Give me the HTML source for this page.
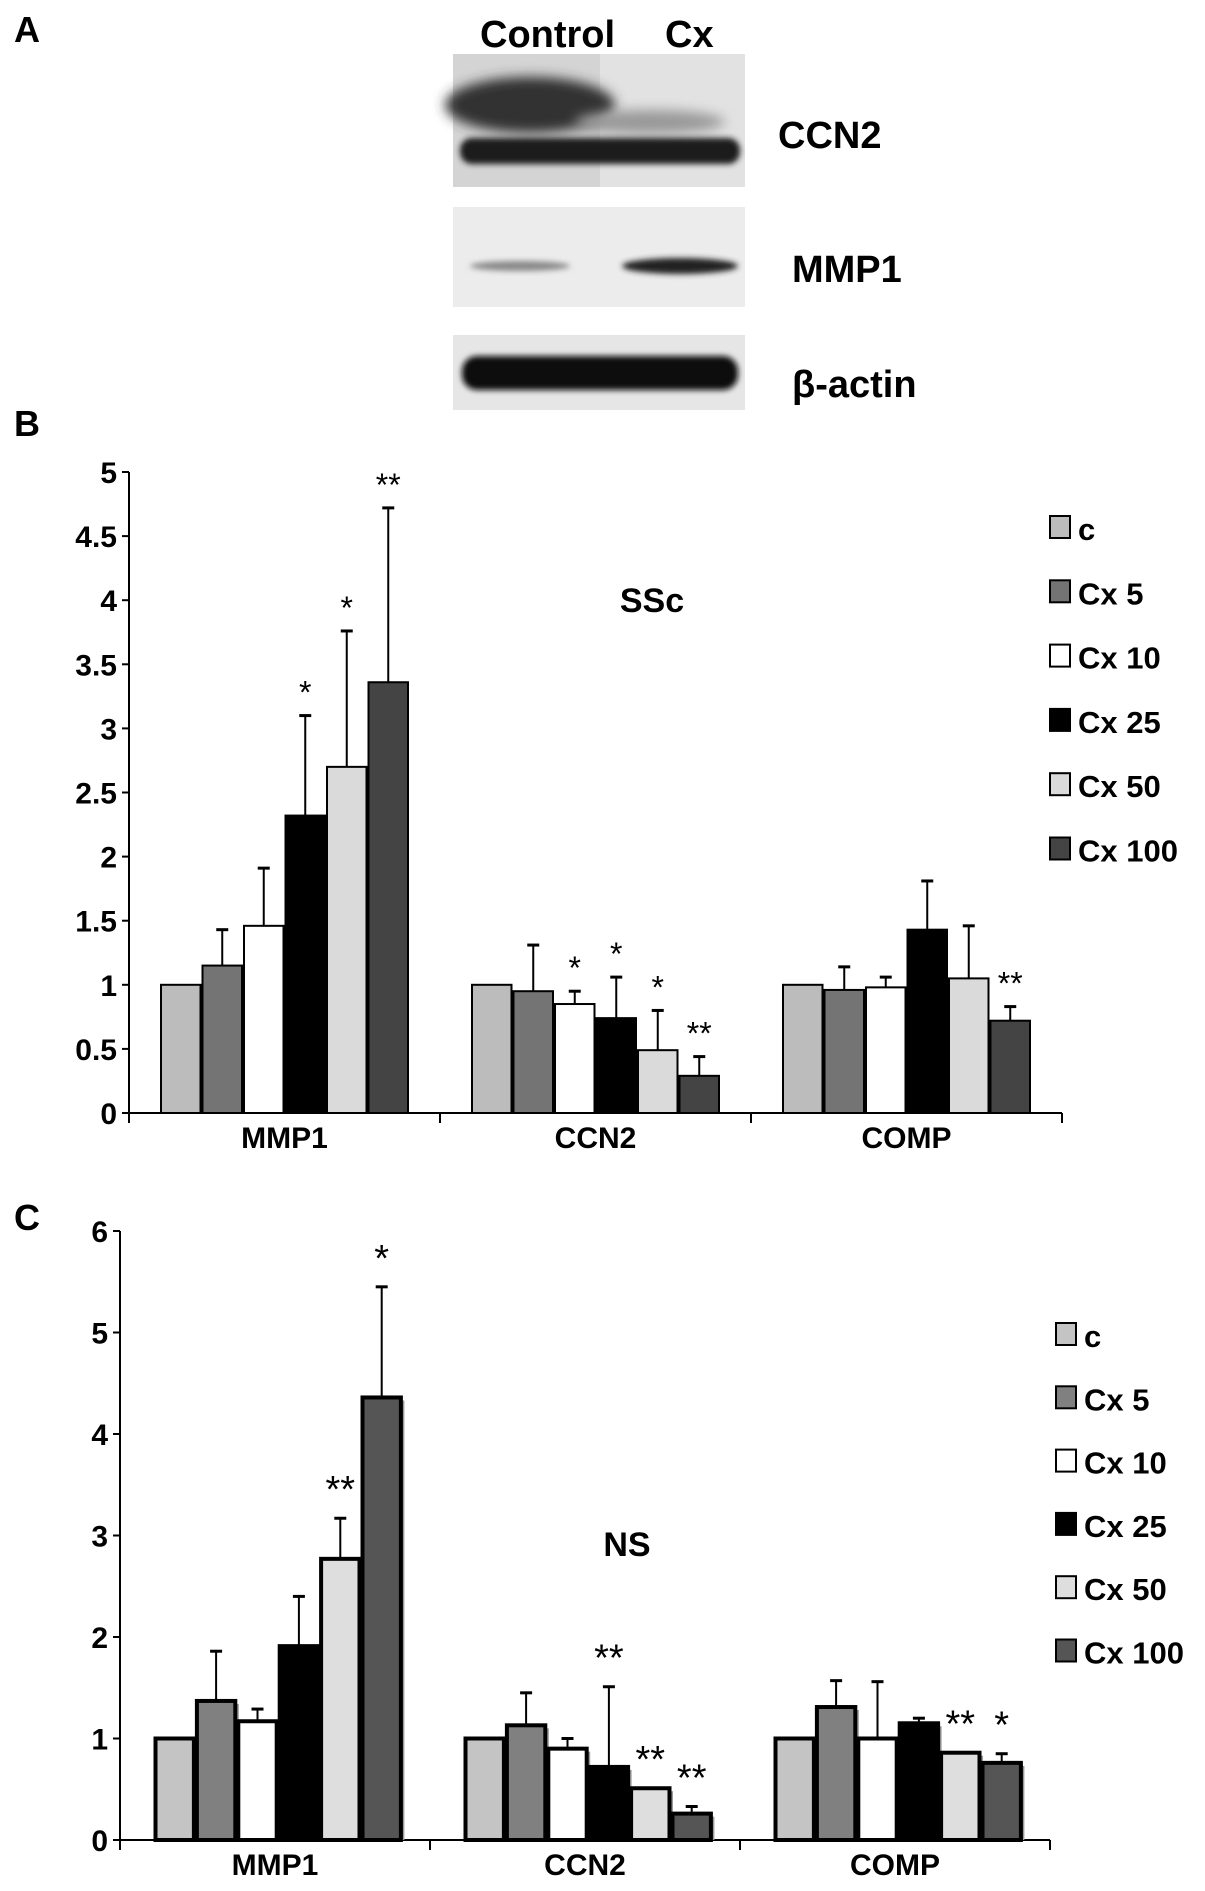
<!DOCTYPE html>
<html><head><meta charset="utf-8">
<style>
html,body{margin:0;padding:0;background:#fff;}
svg{display:block;font-family:"Liberation Sans Narrow","Liberation Sans",sans-serif;font-weight:bold;}
</style></head>
<body>
<svg id="fig" width="1205" height="1891" viewBox="0 0 1205 1891" xmlns="http://www.w3.org/2000/svg">
<defs>
<filter id="blur6" x="-20%" y="-50%" width="140%" height="200%"><feGaussianBlur stdDeviation="6"/></filter>
<filter id="blur3" x="-20%" y="-50%" width="140%" height="200%"><feGaussianBlur stdDeviation="3"/></filter>
</defs>
<g>
<text x="14" y="42" font-size="36" font-family="Liberation Sans">A</text>
<text x="480" y="47" font-size="38" font-family="Liberation Sans">Control</text>
<text x="665" y="47" font-size="38" font-family="Liberation Sans">Cx</text>
<g>
<rect x="453" y="54" width="292" height="133" fill="#d4d4d4"/>
<rect x="600" y="54" width="145" height="133" fill="#e2e2e2"/>
<ellipse cx="530" cy="105" rx="85" ry="28" fill="#333" filter="url(#blur6)"/>
<ellipse cx="650" cy="122" rx="75" ry="12" fill="#999" filter="url(#blur6)"/>
<rect x="460" y="138" width="280" height="26" rx="12" fill="#1a1a1a" filter="url(#blur3)"/>
</g>
<text x="778" y="148" font-size="38" font-family="Liberation Sans">CCN2</text>
<g>
<rect x="453" y="207" width="292" height="100" fill="#ececec"/>
<ellipse cx="520" cy="266" rx="50" ry="5" fill="#888" filter="url(#blur3)"/>
<ellipse cx="680" cy="266" rx="58" ry="8" fill="#222" filter="url(#blur3)"/>
</g>
<text x="792" y="282" font-size="38" font-family="Liberation Sans">MMP1</text>
<g>
<rect x="453" y="335" width="292" height="75" fill="#e6e6e6"/>
<rect x="462" y="356" width="276" height="34" rx="15" fill="#0d0d0d" filter="url(#blur3)"/>
</g>
<text x="792" y="397" font-size="38" font-family="Liberation Sans">β-actin</text>
</g>
<text x="14" y="436" font-size="36" font-family="Liberation Sans">B</text>
<text x="14" y="1230" font-size="36" font-family="Liberation Sans">C</text>
<g id="chartB"></g>
<g id="chartC"></g>
</svg>
<script>
const categories = ["MMP1","CCN2","COMP"];
const seriesNames = ["c","Cx 5","Cx 10","Cx 25","Cx 50","Cx 100"];
const colorsB = ["#bcbcbc","#747474","#ffffff","#000000","#dadada","#444444"];
const colorsC = ["#c4c4c4","#808080","#ffffff","#000000","#dedede","#555555"];
const valuesB = [[1,1.15,1.46,2.32,2.70,3.36],[1,0.95,0.85,0.74,0.49,0.29],[1,0.96,0.98,1.43,1.05,0.72]];
const errTopB = [[null,1.43,1.91,3.10,3.76,4.72],[null,1.31,0.95,1.06,0.80,0.44],[null,1.14,1.06,1.81,1.46,0.83]];
const starsB = [["","","","*","*","**"],["","","*","*","*","**"],["","","","","","**"]];
const ticksB = [0,0.5,1,1.5,2,2.5,3,3.5,4,4.5,5];
const valuesC = [[1,1.37,1.17,1.91,2.77,4.36],[1,1.13,0.90,0.72,0.51,0.26],[1,1.31,1.00,1.15,0.86,0.76]];
const errTopC = [[null,1.86,1.29,2.40,3.17,5.45],[null,1.45,1.00,1.51,0.51,0.33],[null,1.57,1.56,1.20,0.86,0.85]];
const starsC = [["","","","","**","*"],["","","","**","**","**"],["","","","","**","*"]];
const ticksC = [0,1,2,3,4,5,6];

const NS="http://www.w3.org/2000/svg";
function mk(parent,tag,attrs,text){const e=document.createElementNS(NS,tag);for(const k in attrs)e.setAttribute(k,attrs[k]);if(text!==undefined)e.textContent=text;parent.appendChild(e);return e;}

function drawChart(g,cfg){
  const {x0,y0,yTop,maxV,groupW,barOff,barW,values,errTop,stars,ticks,colors,thick,title,titleX,titleY,legX,legY,legStep,catY,tickFmt}=cfg;
  const yS=v=>y0-(v/maxV)*(y0-yTop);
  const xEnd=x0+groupW*categories.length;
  const ya=mk(g,'line',{x1:x0,y1:yTop,x2:x0,y2:y0,stroke:'#000','stroke-width':2});
  
  
  const xa=mk(g,'line',{x1:x0,y1:y0,x2:xEnd,y2:y0,stroke:'#000','stroke-width':2});
  
  
  ticks.forEach(t=>{
    const y=yS(t);
    const tl=mk(g,'line',{x1:x0-7,y1:y,x2:x0,y2:y,stroke:'#000','stroke-width':2});
    
    
    const tx=mk(g,'text',{x:x0-12,y:y+11,'text-anchor':'end','font-size':30},tickFmt(t));
    
    
  });
  for(let i=0;i<=categories.length;i++){
    const x=x0+i*groupW;
    const ct=mk(g,'line',{x1:x,y1:y0,x2:x,y2:y0+10,stroke:'#000','stroke-width':2});
    
    
  }
  categories.forEach((c,ci)=>{
    const cl=mk(g,'text',{x:x0+ci*groupW+groupW/2,y:catY,'text-anchor':'middle','font-size':30},c);
    
    
    values[ci].forEach((v,si)=>{
      const bx=x0+ci*groupW+barOff+si*barW;
      const by=yS(v);
      if(thick){
        const sh=mk(g,'rect',{x:bx+4,y:by+3,width:barW-2,height:y0-by-3,fill:'#999'});
        
        
      }
      const r=mk(g,'rect',{x:bx+(thick?1.5:1),y:by,width:barW-(thick?3:2),height:y0-by,fill:colors[si],stroke:'#000','stroke-width':thick?4:2});
      
      
      const e=errTop[ci][si];
      const cx=bx+barW/2;
      let top=by;
      if(e!==null && e!==undefined){
        const ey=yS(e);
        top=ey;
        const el=mk(g,'line',{x1:cx,y1:by,x2:cx,y2:ey,stroke:'#000','stroke-width':2});
        
        
        const ec=mk(g,'line',{x1:cx-6,y1:ey,x2:cx+6,y2:ey,stroke:'#000','stroke-width':3});
        
        
      }
      const s=stars[ci][si];
      if(s){
        const st=mk(g,'text',{x:cx,y:top-(thick?16:12),'text-anchor':'middle','font-size':thick?38:32,'font-weight':'normal','font-family':'Liberation Sans'},s);
        
        
      }
    });
  });
  const tt=mk(g,'text',{x:titleX,y:titleY,'text-anchor':'middle','font-size':34},title);
  
  
  seriesNames.forEach((n,si)=>{
    const y=legY+si*legStep;
    const lg=mk(g,'rect',{x:legX,y:y-12,width:20,height:22,fill:colors[si],stroke:'#000','stroke-width':2});
    
    
    const lt=mk(g,'text',{x:legX+28,y:y+12,'font-size':31},n);
    
    
  });
}
drawChart(document.getElementById('chartB'),{x0:129,y0:1113,yTop:472,maxV:5,groupW:311,barOff:31,barW:41.5,values:valuesB,errTop:errTopB,stars:starsB,ticks:ticksB,colors:colorsB,thick:false,title:'SSc',titleX:652,titleY:612,legX:1050,legY:528,legStep:64.3,catY:1148,tickFmt:t=>String(t)});
drawChart(document.getElementById('chartC'),{x0:120,y0:1840,yTop:1231,maxV:6,groupW:310,barOff:34,barW:41.4,values:valuesC,errTop:errTopC,stars:starsC,ticks:ticksC,colors:colorsC,thick:true,title:'NS',titleX:627,titleY:1556,legX:1056,legY:1335,legStep:63.3,catY:1875,tickFmt:t=>String(t)});
</script>
</body></html>
